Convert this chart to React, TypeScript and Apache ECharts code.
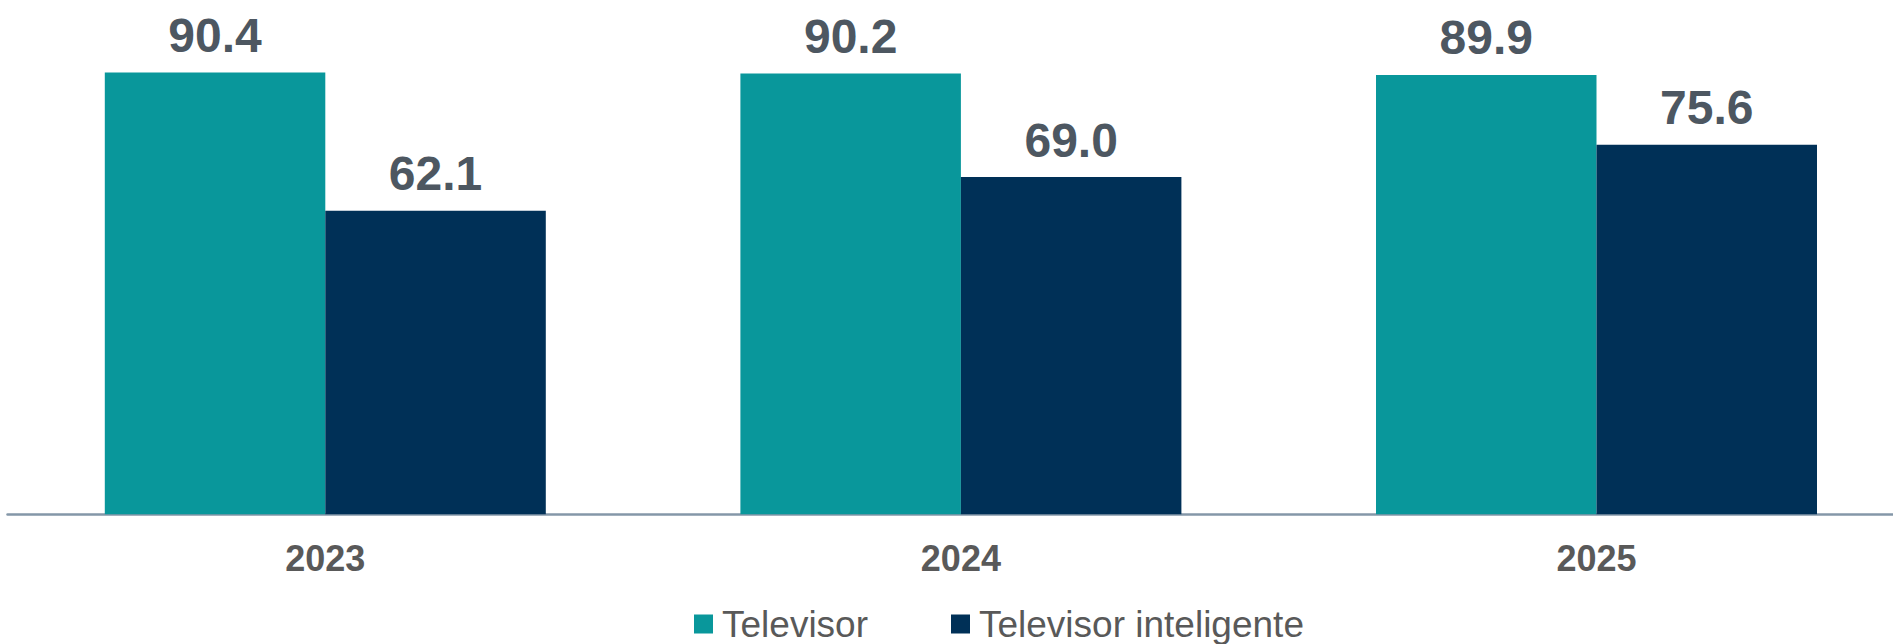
import React, { useEffect, useRef } from "react";
import * as echarts from "echarts";

const categories = ["2023", "2024", "2025"];
const seriesNames = ["Televisor", "Televisor inteligente"];
const televisor = [90.4, 90.2, 89.9];
const televisorInteligente = [62.1, 69.0, 75.6];

const FONT = "'Liberation Sans', Arial, sans-serif";

export default function App() {
  const ref = useRef<HTMLDivElement>(null);
  useEffect(() => {
    document.body.style.margin = "0";
    const chart = echarts.init(ref.current!, null, { renderer: "svg" });
    const labelStyle = {
      show: true,
      position: "top",
      distance: 13,
      fontFamily: FONT,
      fontWeight: "bold",
      fontSize: 48,
      color: "#4D5761",
      formatter: (p: any) => Number(p.value).toFixed(1),
    };
    chart.setOption({
      animation: false,
      backgroundColor: "#ffffff",
      grid: {
        left: 7.5,
        width: 1906.8,
        top: 25.6,
        height: 488.7,
        containLabel: false,
        outerBoundsMode: "none",
      },
      legend: {
        left: 694,
        top: 605.5,
        padding: 0,
        itemWidth: 19,
        itemHeight: 19,
        itemGap: 83,
        icon: "rect",
        textStyle: {
          fontFamily: FONT,
          fontSize: 37,
          lineHeight: 34,
          color: "#595959",
          padding: [0, 0, 0, 4],
        },
        data: seriesNames,
      },
      xAxis: {
        type: "category",
        data: categories,
        axisLine: { show: true, lineStyle: { color: "#8497A8", width: 2.5 } },
        axisTick: { show: false },
        axisLabel: {
          margin: 26,
          fontFamily: FONT,
          fontWeight: "bold",
          fontSize: 36,
          color: "#595959",
        },
      },
      yAxis: {
        type: "value",
        min: 0,
        max: 100,
        show: false,
        splitLine: { show: false },
      },
      series: [
        {
          name: seriesNames[0],
          type: "bar",
          data: televisor,
          barWidth: 220.5,
          barGap: "0%",
          itemStyle: { color: "#09979B" },
          label: labelStyle,
        },
        {
          name: seriesNames[1],
          type: "bar",
          data: televisorInteligente,
          barWidth: 220.5,
          barGap: "0%",
          itemStyle: { color: "#003057" },
          label: labelStyle,
        },
      ],
    });
    return () => chart.dispose();
  }, []);
  return <div ref={ref} style={{ width: 1893, height: 644 }} />;
}
